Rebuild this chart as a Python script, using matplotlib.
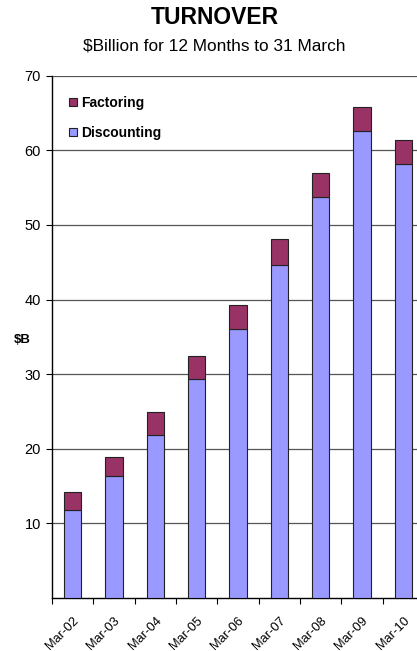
import matplotlib
matplotlib.use("Agg")
import matplotlib.pyplot as plt
import numpy as np

plt.rcParams['font.family'] = ['Liberation Sans', 'DejaVu Sans']

categories = ["Mar-02", "Mar-03", "Mar-04", "Mar-05", "Mar-06",
              "Mar-07", "Mar-08", "Mar-09", "Mar-10"]
discounting = [11.8, 16.3, 21.8, 29.3, 36.0, 44.6, 53.7, 62.6, 58.2]
totals = [14.2, 18.9, 24.9, 32.5, 39.3, 48.1, 57.0, 65.8, 61.4]
factoring = [t - d for t, d in zip(totals, discounting)]

W, H = 417, 651
fig = plt.figure(figsize=(W / 100, H / 100), dpi=100)

# plot area: left edge at x=52, bottom at y=598, top at y=75.7;
# the category axis runs a little past the right edge of the figure
left, right, top, bottom = 52, 424, 75.7, 598
ax = fig.add_axes([left / W, 1 - bottom / H, (right - left) / W, (bottom - top) / H])

x = np.arange(len(categories))
bw = 0.42
ax.bar(x, discounting, bw, color="#9999FF", edgecolor="#222222", linewidth=0.8,
       label="Discounting", zorder=3)
ax.bar(x, factoring, bw, bottom=discounting, color="#993366", edgecolor="#222222",
       linewidth=0.8, label="Factoring", zorder=3)

ax.set_xlim(-0.5, len(categories) - 0.5)
ax.set_ylim(0, 70)
ax.set_yticks(np.arange(10, 71, 10))
ax.yaxis.grid(True, color="#555555", linewidth=0.9, zorder=0)
ax.set_axisbelow(True)

for s in ["top", "right"]:
    ax.spines[s].set_visible(False)
ax.spines["left"].set_color("black")
ax.spines["bottom"].set_color("black")
ax.spines["left"].set_linewidth(1.0)
ax.spines["bottom"].set_linewidth(1.0)

ax.set_xticks(np.arange(len(categories) + 1) - 0.5, minor=False)
ax.set_xticklabels([])
ax.set_xticks(x, minor=True)
ax.set_xticklabels(categories, minor=True, rotation=45, ha="right",
                   rotation_mode="anchor", fontsize=9.3)
ax.tick_params(axis="x", which="major", direction="out", length=4, width=0.8)
ax.tick_params(axis="x", which="minor", length=0, pad=12)
ax.tick_params(axis="y", direction="out", length=4, width=0.8, labelsize=10.5, pad=4)

ax.text(-0.08, 0.494, "$B", transform=ax.transAxes, fontsize=9.5,
        fontweight="bold", ha="center", va="center")

handles, labels = ax.get_legend_handles_labels()
leg = ax.legend(handles[::-1], labels[::-1], loc="upper left",
                bbox_to_anchor=(0.012, 0.985), frameon=False,
                prop={"weight": "bold", "size": 10}, handlelength=0.55,
                handleheight=0.55, handletextpad=0.35, labelspacing=1.15)

fig.text(214.5 / W, 1 - 18 / H, "TURNOVER", ha="center", va="center",
         fontsize=16.5, fontweight="bold")
fig.text(214.5 / W, 1 - 46 / H, "$Billion for 12 Months to 31 March", ha="center",
         va="center", fontsize=12.4)

fig.savefig("out.png", dpi=100)
